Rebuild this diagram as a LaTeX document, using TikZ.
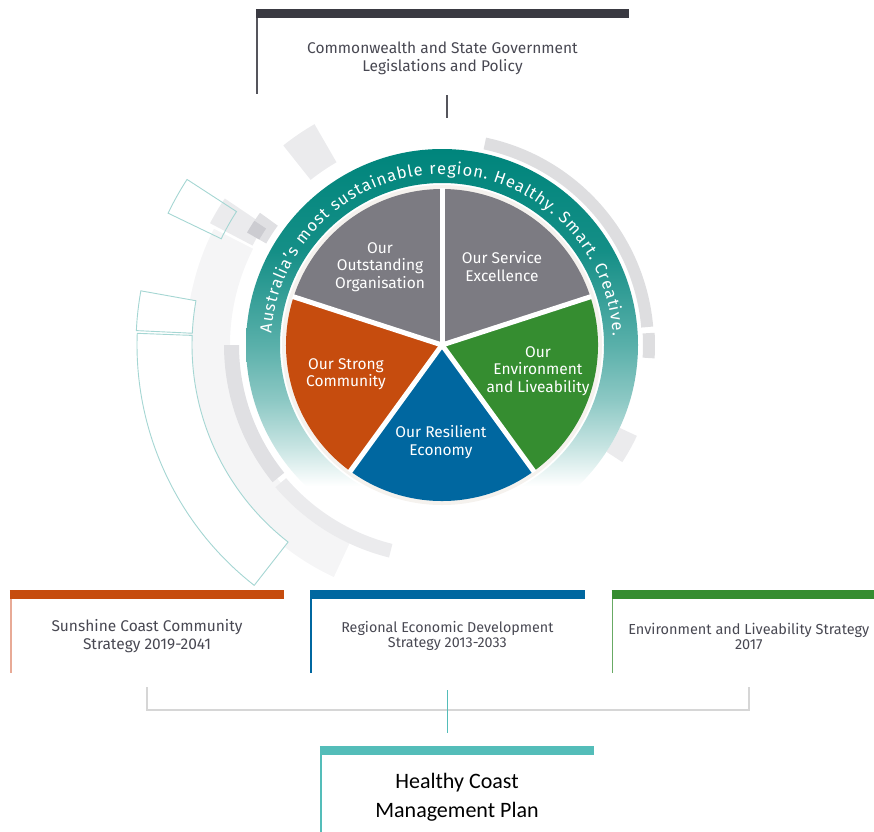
\documentclass[tikz,border=0pt]{standalone}
\usepackage{fontspec}
\setmainfont{Fira Sans}
\newfontfamily\calib{Carlito}
\usetikzlibrary{calc,positioning,decorations.text}

\definecolor{ringteal}{RGB}{0,133,124}
\definecolor{piegrey}{RGB}{124,123,130}
\definecolor{commorange}{RGB}{198,76,14}
\definecolor{commline}{RGB}{232,170,150}
\definecolor{econblue}{RGB}{0,103,160}
\definecolor{envgreen}{RGB}{53,141,48}
\definecolor{planteal}{RGB}{84,189,185}
\definecolor{bardark}{RGB}{58,58,66}
\definecolor{govtline}{RGB}{85,85,92}
\definecolor{boxtext}{RGB}{72,72,82}
\definecolor{bracketgrey}{RGB}{214,214,214}
\definecolor{outlineteal}{RGB}{165,214,211}
\definecolor{pieborder}{RGB}{245,242,238}
\definecolor{greyA}{RGB}{222,222,224}
\definecolor{greyB}{RGB}{245,245,246}
\definecolor{greyC}{RGB}{235,235,237}
\definecolor{greyD}{RGB}{224,224,227}
\definecolor{greyE}{RGB}{204,204,209}

\pgfdeclareverticalshading{ringfade}{100bp}{color(0bp)=(white); color(32bp)=(white);
  color(37bp)=(ringteal!22); color(43bp)=(ringteal!45); color(50bp)=(ringteal!65);
  color(62bp)=(ringteal!92); color(75bp)=(ringteal); color(100bp)=(ringteal)}

% annular piece round the pie centre: style, inner r, outer r, from, to
\newcommand{\ringpart}[5]{%
  \path[#1] ([shift={(#4:#3pt)}]pc) arc[start angle=#4, end angle=#5, radius=#3pt]
    -- ([shift={(#5:#2pt)}]pc) arc[start angle=#5, end angle=#4, radius=#2pt] -- cycle;}

\begin{document}
\begin{tikzpicture}[x=1pt,y=1pt,
    stratbox/.style={minimum width=274pt, minimum height=74pt, inner sep=0pt,
      align=center, text=boxtext, font=\fontsize{15.5pt}{18pt}\selectfont},
    segtext/.style={text=white, align=center, inner sep=0pt,
      font=\fontsize{15.5pt}{17.5pt}\selectfont},
    outl/.style={draw=outlineteal, line width=0.9pt}]
  \useasboundingbox (0,0) rectangle (874,-831);
  \coordinate (pc) at (442,-345);

  % grey and outlined pieces behind the wheel
  \ringpart{fill=greyA}{200}{212}{5}{78}
  \ringpart{fill=greyA}{201}{213}{-3.6}{3.3}
  \ringpart{fill=greyC}{196}{215}{-33}{-25}
  \ringpart{fill=greyC}{211}{255}{120}{128.5}
  \ringpart{fill=greyB}{212}{256}{153}{245}
  \ringpart{fill=greyC}{214}{262}{146}{152.3}
  \ringpart{fill=greyD}{203}{225}{144}{150}
  \ringpart{fill=greyE}{211}{225}{146.5}{150}
  \ringpart{fill=greyD}{203}{218}{180}{219}
  \ringpart{fill=greyC}{205}{219}{220.5}{256}
  \ringpart{outl}{245}{304}{147}{154.3}
  \ringpart{outl,fill=white}{250}{306}{169.8}{177.3}
  \ringpart{outl,fill=white}{250}{305}{177.8}{232}

  % vision ring
  \shade[shading=ringfade, even odd rule] (pc) circle[radius=196pt] (pc) circle[radius=162pt];
  \path[decorate, decoration={text along path, text align={fit to path}, text color=white,
      text={|\fontsize{16.5pt}{16pt}\selectfont|Australia's most sustainable region. Healthy. Smart. Creative.}}]
    ([shift={(176:171pt)}]pc) arc[start angle=176, end angle=3, radius=171pt];

  % wheel
  \fill[pieborder] (pc) circle[radius=160pt];
  \foreach \a/\c in {90/piegrey, 18/piegrey, -54/envgreen, -126/econblue, 162/commorange}
    \fill[\c] (pc) -- ++(\a:156) arc[start angle=\a, delta angle=72, radius=156pt] -- cycle;
  \foreach \a in {18,90,162,234,306}
    \draw[white, line width=5pt] (pc) -- ++(\a:157);

  \node[segtext] (org) at (380,-267) {Our\\Outstanding\\Organisation};
  \node[segtext] (serv) at (502,-266.5) {Our Service\\Excellence};
  \node[segtext] (envseg) at (538,-371) {Our\\Environment\\and Liveability};
  \node[segtext] (econseg) at (441,-442) {Our Resilient\\Economy};
  \node[segtext] (commseg) at (346,-374) {Our Strong\\Community};

  % strategy boxes
  \node[stratbox, minimum width=373pt, minimum height=76pt] (govt) at (442.5,-56)
    {\rule{0pt}{17pt}Commonwealth and State Government\\Legislations and Policy};
  \node[stratbox] (comm) at (147,-636) {Sunshine Coast Community\\Strategy 2019-2041};
  \node[stratbox, right=26pt of comm, font=\fontsize{14.3pt}{15pt}\selectfont] (econ)
    {Regional Economic Development\\Strategy 2013-2033};
  \node[stratbox, right=27pt of econ, font=\fontsize{14.5pt}{15pt}\selectfont] (env)
    {Environment and Liveability Strategy\\2017};
  \node[stratbox, minimum height=84pt, text=black, font=\calib\fontsize{22pt}{29pt}\selectfont]
    (plan) at (457,-797) {Healthy Coast\\Management Plan};

  \foreach \b/\c/\l in {govt/bardark/govtline, comm/commorange/commline, econ/econblue/econblue,
      env/envgreen/envgreen!75, plan/planteal/planteal} {
    \draw[\c, line width=9pt] ([yshift=4.5pt]\b.north west) -- ([yshift=4.5pt]\b.north east);
    \draw[\l, line width=1.8pt] ([xshift=0.9pt]\b.north west) -- ([xshift=0.9pt]\b.south west);
  }

  % connectors
  \coordinate (govtend) at (447,-118);
  \draw[govtline, line width=1.5pt] ([xshift=4.5pt,yshift=-1pt]govt.south) -- (govtend);
  \draw[bracketgrey, line width=1.5pt] ([yshift=-14pt]comm.south) |- ([yshift=-37pt]econ.south)
    -| ([yshift=-14pt]env.south);
  \draw[planteal, line width=1.5pt] ([yshift=-17pt]econ.south) -- ($(plan.north -| econ.south)+(0,22)$);
\end{tikzpicture}
\end{document}
